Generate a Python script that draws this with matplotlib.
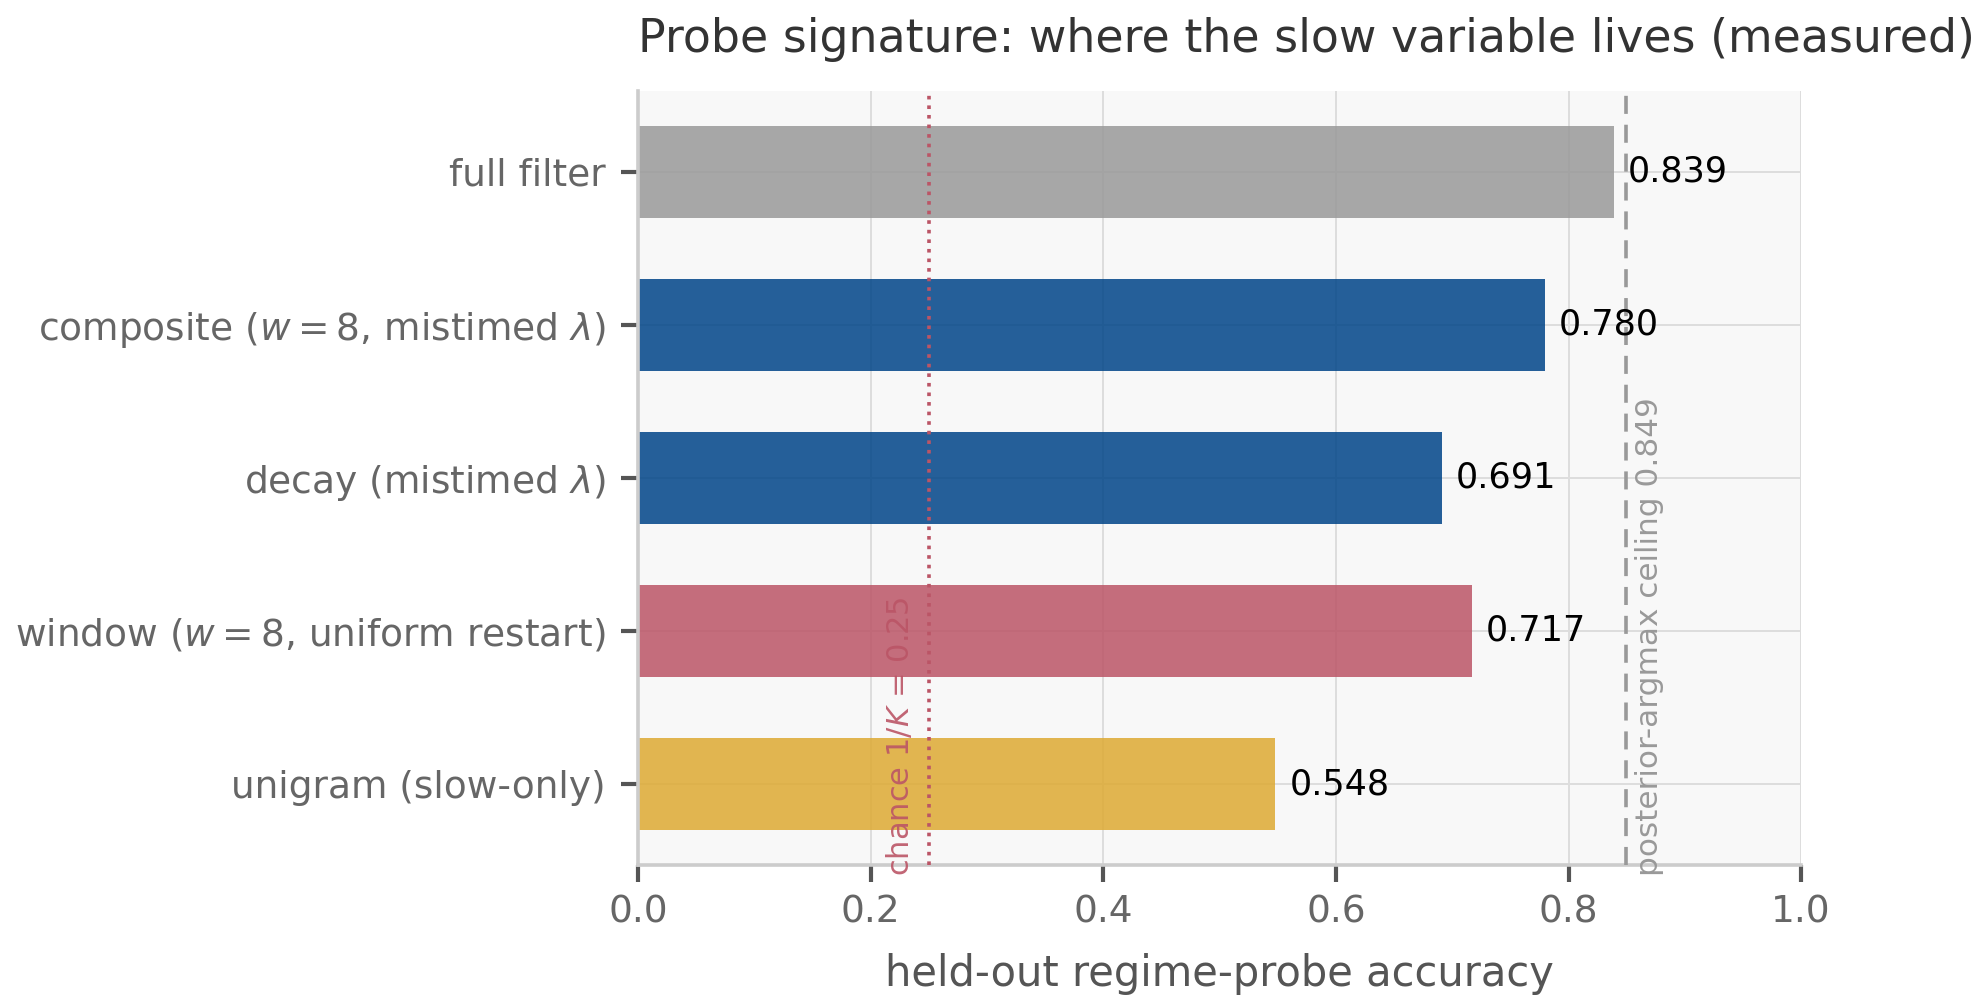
import matplotlib
matplotlib.use("Agg")
import matplotlib.pyplot as plt

labels = [
    "full filter",
    r"composite ($w=8$, mistimed $\lambda$)",
    r"decay (mistimed $\lambda$)",
    r"window ($w=8$, uniform restart)",
    "unigram (slow-only)",
]
accuracy = [0.839, 0.780, 0.691, 0.717, 0.548]
colors = ["#999999", "#004488", "#004488", "#BB5566", "#DDAA33"]
chance = 0.25
ceiling = 0.849

fig = plt.figure(figsize=(9.94, 5.03), dpi=200)
ax = fig.add_axes([0.321, 0.140, 0.585, 0.770])
ax.set_facecolor("#f8f8f8")

ypos = list(range(len(labels)))[::-1]
ax.barh(ypos, accuracy, height=0.6, color=colors, alpha=0.85, zorder=2)
for y, v in zip(ypos, accuracy):
    ax.text(v + 0.012, y, f"{v:.3f}", va="center", ha="left", fontsize=12.6, color="black", zorder=4)

ax.axvline(chance, color="#BB5566", linestyle=":", linewidth=1.3, zorder=3)
ax.text(chance - 0.012, -0.6, r"chance $1/K$ = 0.25", rotation=90, ha="right", va="bottom",
        fontsize=11, color="#BB5566", alpha=0.9, zorder=4)
ax.axvline(ceiling, color="#999999", linestyle=(0, (5, 3)), linewidth=1.3, zorder=3)
ax.text(ceiling + 0.008, -0.6, "posterior-argmax ceiling 0.849", rotation=90, ha="left", va="bottom",
        fontsize=11.2, color="#999999", zorder=4)

ax.set_yticks(ypos)
ax.set_yticklabels(labels)
ax.set_xlim(0, 1.0)
ax.set_xticks([0.0, 0.2, 0.4, 0.6, 0.8, 1.0])
ax.set_xlabel("held-out regime-probe accuracy", fontsize=15, color="#555555", labelpad=8)
ax.set_title("Probe signature: where the slow variable lives (measured)", loc="left",
             fontsize=16.5, color="#333333", pad=14)

ax.grid(True, color="#dddddd", linewidth=0.7, zorder=0)
ax.set_axisbelow(True)
for s in ["top", "right"]:
    ax.spines[s].set_visible(False)
for s in ["left", "bottom"]:
    ax.spines[s].set_color("#cccccc")
    ax.spines[s].set_linewidth(1.3)
ax.tick_params(axis="both", colors="#555555", labelsize=13.5, length=6, width=1.5)
ax.tick_params(axis="y", pad=5.7)
ax.tick_params(axis="x", pad=4.5)
for lbl in ax.get_xticklabels() + ax.get_yticklabels():
    lbl.set_color("#666666")

fig.savefig("out.png", dpi=200)
